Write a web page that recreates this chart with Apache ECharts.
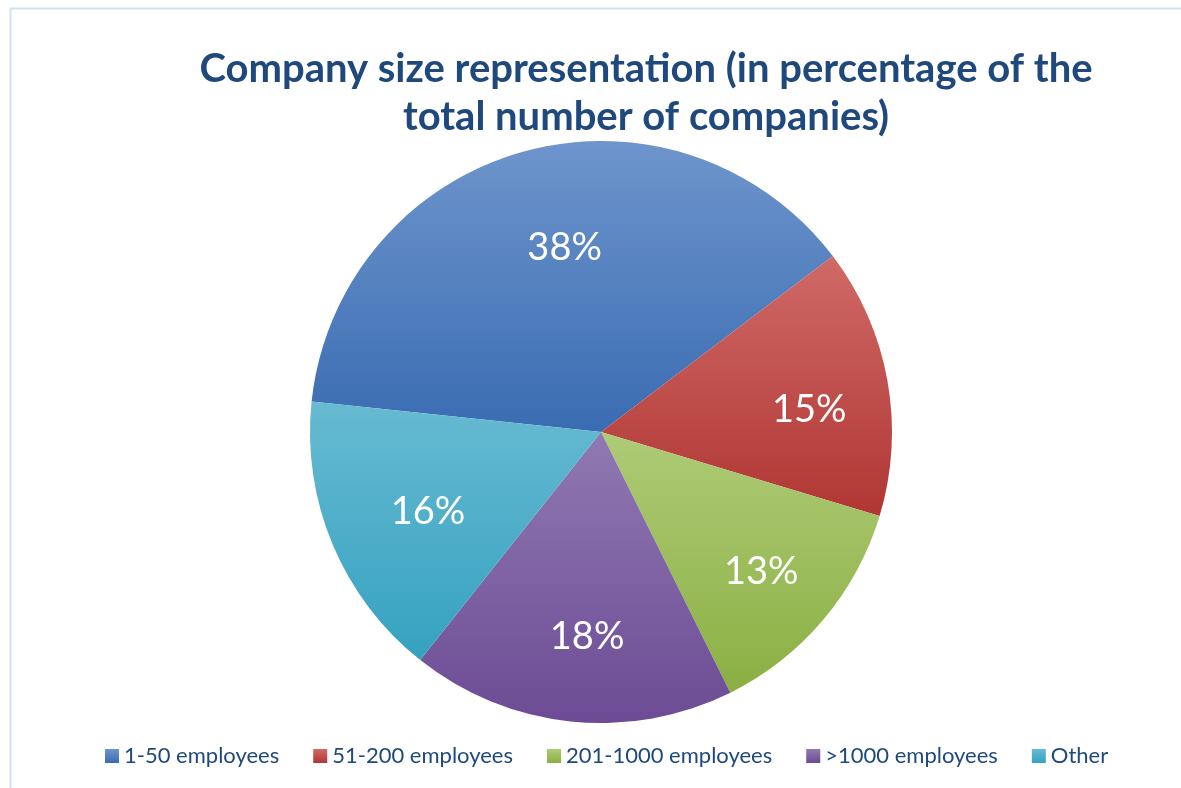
<!DOCTYPE html>
<html>
<head>
<meta charset="utf-8">
<script src="https://cdn.jsdelivr.net/npm/echarts@6/dist/echarts.min.js"></script>
<style>
  html, body { margin: 0; padding: 0; background: #fff; }
  #chart { width: 1181px; height: 788px; }
</style>
</head>
<body>
<div id="chart"></div>
<script>
// Company size categories and their share (%) of all companies
const categories = ['1-50 employees', '51-200 employees', '201-1000 employees', '>1000 employees', 'Other'];
const shares = [38, 15, 13, 18, 16];

// Top / bottom colours of each slice's vertical gradient
const topColors = ['#6E95CC', '#D06A67', '#AECB76', '#9079B2', '#67BAD2'];
const bottomColors = ['#3A6CB2', '#B03633', '#8BAF43', '#6C4B94', '#35A2C0'];

const titleColor = '#1F497D';
const font = 'Lato, "Open Sans", sans-serif';

const chart = echarts.init(document.getElementById('chart'), null, { renderer: 'canvas' });

const sliceData = categories.map((name, i) => ({
  name,
  value: shares[i],
  itemStyle: {
    color: new echarts.graphic.LinearGradient(0, 0, 0, 1, [
      { offset: 0, color: topColors[i] },
      { offset: 1, color: bottomColors[i] }
    ])
  }
}));

const labelData = categories.map((name, i) => ({ name, value: shares[i] }));

const center = [601, 432];
const outerR = 291;

chart.setOption({
  backgroundColor: '#ffffff',
  animation: false,
  graphic: [{
    type: 'rect',
    silent: true,
    shape: { x: 10.5, y: 8.5, width: 1300, height: 900 },
    style: { fill: 'none', stroke: '#D5E1F1', lineWidth: 2 }
  }],
  title: {
    text: 'Company size representation (in percentage of the\ntotal number of companies)',
    left: 641,
    textAlign: 'center',
    top: 40,
    textStyle: {
      color: titleColor,
      fontFamily: font,
      fontWeight: 'bold',
      fontSize: 40,
      lineHeight: 48
    }
  },
  legend: {
    bottom: 16,
    left: 100,
    itemWidth: 14,
    itemHeight: 14,
    itemGap: 34,
    icon: 'rect',
    selectedMode: false,
    data: categories,
    textStyle: {
      color: titleColor,
      fontFamily: font,
      fontSize: 22
    }
  },
  series: [
    {
      name: 'Company size',
      type: 'pie',
      center: center,
      radius: [0, outerR],
      startAngle: 174,
      clockwise: true,
      avoidLabelOverlap: false,
      label: { show: false },
      labelLine: { show: false },
      emphasis: { disabled: true },
      data: sliceData
    },
    {
      // transparent ring carrying the percentage labels
      name: 'Labels',
      type: 'pie',
      silent: true,
      center: center,
      radius: [100, outerR],
      startAngle: 172.5,
      clockwise: true,
      avoidLabelOverlap: false,
      legendHoverLink: false,
      itemStyle: { color: 'rgba(0,0,0,0)' },
      label: {
        show: true,
        position: 'inside',
        formatter: '{c}%',
        color: '#ffffff',
        fontFamily: font,
        fontSize: 38,
        offset: [12, 8]
      },
      labelLine: { show: false },
      emphasis: { disabled: true },
      data: labelData
    }
  ]
});
</script>
</body>
</html>
